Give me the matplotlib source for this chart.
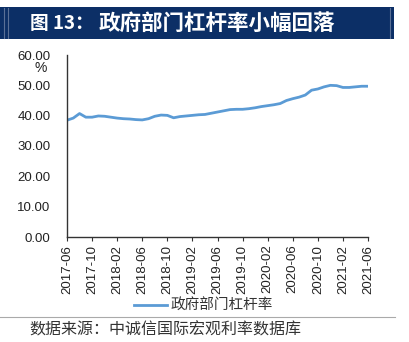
import matplotlib
matplotlib.use("Agg")
import matplotlib.pyplot as plt
from matplotlib.patches import Rectangle
from matplotlib.lines import Line2D

plt.rcParams['font.family'] = ['Liberation Sans', 'Noto Sans CJK SC', 'DejaVu Sans']
CJK = ['Noto Sans CJK SC', 'DejaVu Sans']

title_prefix = "图 13："
title_main = "政府部门杠杆率小幅回落"
series_name = "政府部门杠杆率"
source_text = "数据来源：中诚信国际宏观利率数据库"
unit_label = "%"

months = ["2017-06", "2017-07", "2017-08", "2017-09", "2017-10", "2017-11", "2017-12",
          "2018-01", "2018-02", "2018-03", "2018-04", "2018-05", "2018-06", "2018-07",
          "2018-08", "2018-09", "2018-10", "2018-11", "2018-12", "2019-01", "2019-02",
          "2019-03", "2019-04", "2019-05", "2019-06", "2019-07", "2019-08", "2019-09",
          "2019-10", "2019-11", "2019-12", "2020-01", "2020-02", "2020-03", "2020-04",
          "2020-05", "2020-06", "2020-07", "2020-08", "2020-09", "2020-10", "2020-11",
          "2020-12", "2021-01", "2021-02", "2021-03", "2021-04", "2021-05", "2021-06"]
values = [38.5, 39.2, 40.7, 39.5, 39.5, 39.9, 39.8, 39.5, 39.2, 39.0, 38.9, 38.7, 38.6,
          39.0, 39.8, 40.2, 40.1, 39.3, 39.7, 39.9, 40.1, 40.3, 40.4, 40.8, 41.2, 41.6,
          42.0, 42.1, 42.1, 42.3, 42.6, 43.0, 43.3, 43.6, 44.0, 45.0, 45.6, 46.1, 46.8,
          48.4, 48.8, 49.5, 50.0, 49.9, 49.3, 49.3, 49.5, 49.7, 49.7]
y_ticks = [0, 10, 20, 30, 40, 50, 60]

W, H = 409, 342
fig = plt.figure(figsize=(W / 100, H / 100), dpi=100)

# title bar
fig.patches.append(Rectangle((0, 1 - 39 / H), 394 / W, 32 / H, transform=fig.transFigure,
                             facecolor='#0c2f66', edgecolor='none', zorder=0))
for xx in (3.5, 7.5):
    fig.lines.append(Line2D([xx / W, xx / W], [1 - 38 / H, 1 - 8 / H], transform=fig.transFigure,
                            color='#5a7096', lw=0.8))
fig.lines.append(Line2D([389.5 / W, 389.5 / W], [1 - 38 / H, 1 - 8 / H], transform=fig.transFigure,
                        color='#5a7096', lw=0.8))
fig.text(30 / W, 1 - 23.5 / H, title_prefix, color='white', fontsize=13.5, fontweight='bold',
         family=CJK, va='center', ha='left')
fig.text(99 / W, 1 - 23.5 / H, title_main, color='white', fontsize=15.5, fontweight='bold',
         family=CJK, va='center', ha='left')

ax = fig.add_axes([67 / W, 1 - 237 / H, (368 - 67) / W, (237 - 55) / H])
x = list(range(len(months)))
ax.plot(x, values, color='#5b9bd5', lw=2.0, label=series_name, solid_joinstyle='round')
ax.set_xlim(0, len(months) - 1)
ax.set_ylim(0, 60)
ax.set_yticks(y_ticks)
ax.set_yticklabels([f"{v:.2f}" for v in y_ticks], fontsize=9.5, color='#222222')
ax.set_xticks(x[::4])
ax.set_xticklabels(months[::4], rotation=90, fontsize=9.5, color='#222222')
ax.tick_params(axis='y', length=0, pad=12)
ax.tick_params(axis='x', length=3, width=0.8, pad=2.5, color='#333333')
for s in ('top', 'right'):
    ax.spines[s].set_visible(False)
for s in ('left', 'bottom'):
    ax.spines[s].set_color('#333333')
    ax.spines[s].set_linewidth(1.0)

fig.text(41 / W, 1 - 68 / H, unit_label, fontsize=10, ha='center', va='center', color='#222222')

leg = fig.legend(loc='center', bbox_to_anchor=(203 / W, 1 - 306 / H), frameon=False,
                 prop={'family': CJK, 'size': 10.5}, handlelength=2.3, handletextpad=0.2,
                 borderpad=0)
for t in leg.get_texts():
    t.set_color('#333333')

fig.lines.append(Line2D([0, 395 / W], [1 - 317 / H, 1 - 317 / H], transform=fig.transFigure,
                        color='#aaaaaa', lw=0.8))
fig.text(29 / W, 1 - 330 / H, source_text, fontsize=11.5, family=CJK, style='italic',
         color='#333333', va='center', ha='left')

fig.savefig('out.png', dpi=100)
